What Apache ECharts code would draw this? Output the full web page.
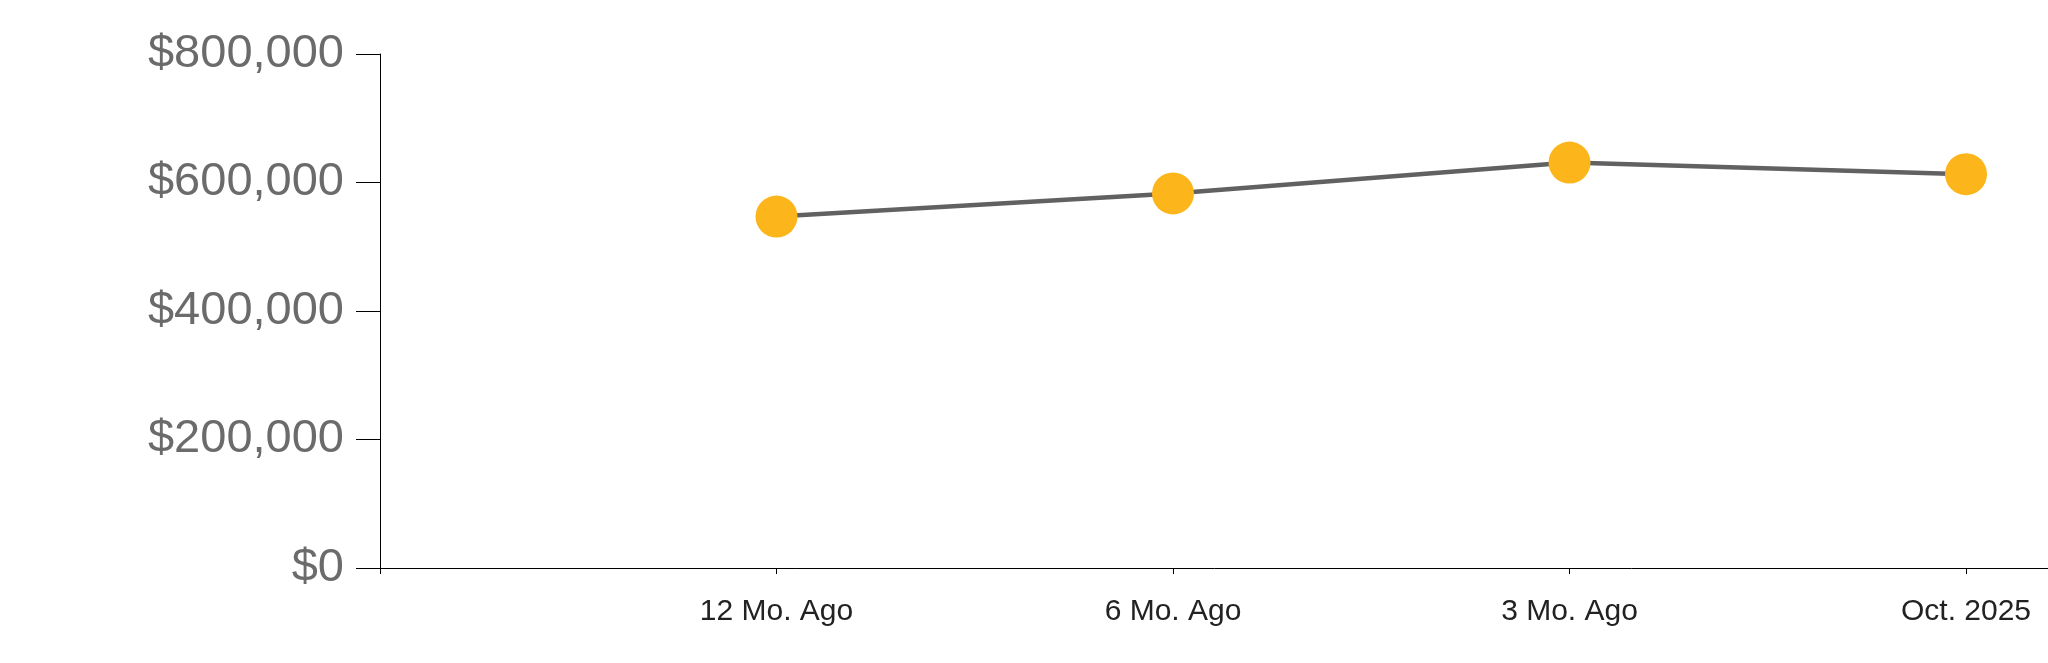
<!DOCTYPE html>
<html>
<head>
<meta charset="utf-8">
<script src="https://cdn.jsdelivr.net/npm/echarts@6/dist/echarts.min.js"></script>
<style>
html,body{margin:0;padding:0;background:#fff;}
#chart{width:2048px;height:663px;}
</style>
</head>
<body>
<div id="chart"></div>
<script>
const categories = ['12 Mo. Ago', '6 Mo. Ago', '3 Mo. Ago', 'Oct. 2025'];
const medianPrice = [547000, 583000, 631000, 613000];
const yTicks = [0, 200000, 400000, 600000, 800000];

// padding slots so the first point sits one step right of the y-axis
const axisCats = [''].concat(categories, ['']);
const seriesData = [null].concat(medianPrice, [null]);

const chart = echarts.init(document.getElementById('chart'), null, {renderer: 'canvas'});
chart.setOption({
  animation: false,
  backgroundColor: '#ffffff',
  grid: {left: 380, top: 54, bottom: 95, right: -314.5, outerBoundsMode: 'none', containLabel: false},
  xAxis: {
    type: 'category',
    data: axisCats,
    boundaryGap: false,
    axisLine: {show: true, lineStyle: {color: '#000', width: 1}},
    axisTick: {show: true, length: 6, lineStyle: {color: '#000', width: 1}},
    axisLabel: {
      show: true, interval: 0, margin: 29,
      fontFamily: '"Liberation Sans", Arial, sans-serif',
      fontSize: 30, color: '#222'
    },
    splitLine: {show: false}
  },
  yAxis: {
    type: 'value',
    min: yTicks[0],
    max: yTicks[yTicks.length - 1],
    interval: yTicks[1] - yTicks[0],
    axisLine: {show: true, lineStyle: {color: '#000', width: 1}},
    axisTick: {show: true, length: 24, lineStyle: {color: '#000', width: 1}},
    axisLabel: {
      margin: 36,
      fontFamily: '"Liberation Sans", Arial, sans-serif',
      fontSize: 47, color: '#6b6b6b',
      formatter: v => '$' + v.toLocaleString('en-US')
    },
    splitLine: {show: false}
  },
  series: [{
    type: 'line',
    data: seriesData,
    connectNulls: false,
    symbol: 'circle',
    symbolSize: 42,
    showAllSymbol: true,
    clip: false,
    lineStyle: {color: '#616161', width: 4.5},
    itemStyle: {color: '#FCB51A', borderWidth: 0}
  }]
});
</script>
</body>
</html>
